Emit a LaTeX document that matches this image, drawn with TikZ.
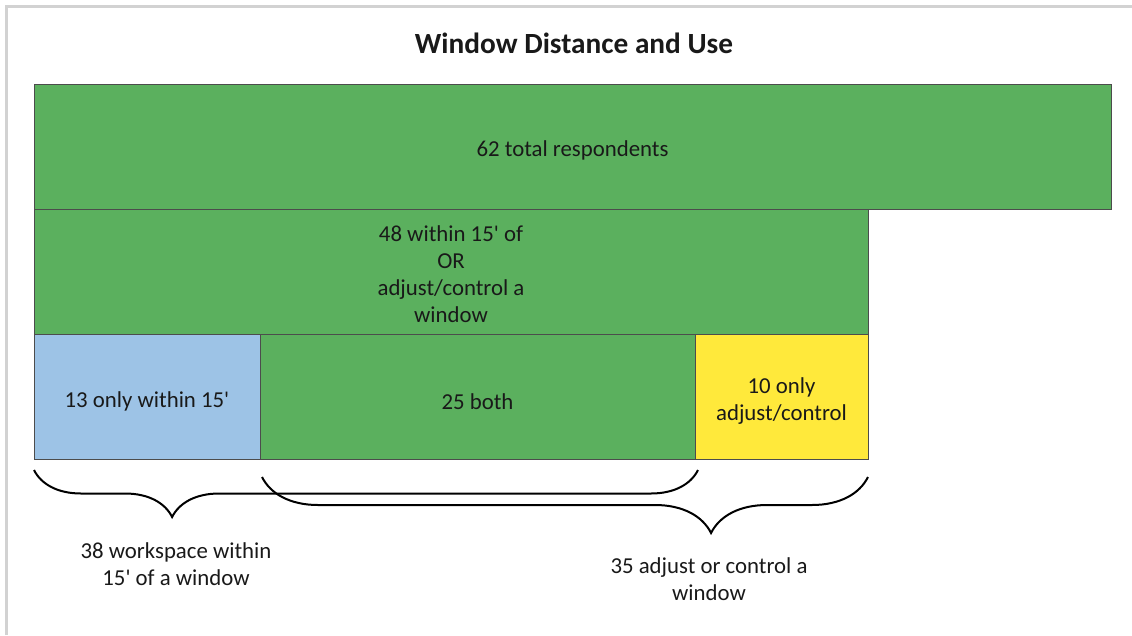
\documentclass[tikz,border=0pt]{standalone}
\usepackage{fontspec}
\setmainfont{Carlito}
\usepackage{tikz}
\usetikzlibrary{positioning,decorations.pathreplacing}

\definecolor{barGreen}{RGB}{91,176,94}
\definecolor{skyBlue}{RGB}{157,195,230}
\definecolor{sunYellow}{RGB}{255,233,59}
\definecolor{frameGray}{RGB}{210,210,210}
\definecolor{inkGray}{RGB}{25,25,25}

\newcommand\ft{15\textquotesingle}

\tikzset{
  cell/.style={draw=black!70, line width=1pt, outer sep=0pt, inner sep=0pt,
    minimum height=125pt},
  note/.style={align=center, text=inkGray, font=\fontsize{22.8}{27}\selectfont},
  curly/.style 2 args={draw, line width=2pt, decorate,
    decoration={brace, mirror, amplitude=#1, aspect=#2}},
}

\begin{document}
\begin{tikzpicture}[x=10pt,y=-10pt]
    \useasboundingbox (0,0) rectangle (113.2,63.5);
    \draw[frameGray, line width=3pt] (0.6,63.5) -- (0.6,0.6) -- (113.2,0.6);

    \node[font=\fontsize{29.3}{34}\selectfont\bfseries, text=inkGray] (title) at (57.4,4.3) {Window Distance and Use};

    \node[cell, fill=barGreen, minimum width=1077pt, anchor=north west] (total) at (3.4,8.4) {};
    \node[cell, fill=barGreen, minimum width=834pt, anchor=north west] (either) at (total.south west) {};
    \node[cell, fill=skyBlue, minimum width=226pt, anchor=north west] (only15) at (either.south west) {};
    \node[cell, fill=barGreen, minimum width=435pt, right=0pt of only15] (both) {};
    \node[cell, fill=sunYellow, minimum width=173pt, right=0pt of both] (onlyadj) {};

    \node[note] (totalText) at ([yshift=-4pt]total.center) {62 total respondents};
    \node[note] (eitherText) at ([yshift=-3pt]either.center) {48 within \ft{} of\\OR\\adjust/control a\\window};
    \node[note] (only15Text) at ([yshift=-5pt]only15.center) {13 only within \ft};
    \node[note] (bothText) at ([yshift=-5pt]both.center) {25 both};
    \node[note] (onlyadjText) at ([yshift=-5pt]onlyadj.center) {10 only\\adjust/control};

    \coordinate (wsFrom) at ([yshift=-11pt]only15.south west);
    \coordinate (wsTo) at ([xshift=3pt,yshift=-11pt]both.south east);
    \draw[curly={47pt}{0.208}] (wsFrom) -- (wsTo);
    \node[note] (wsLabel) at (17.6,56.4) {38 workspace within\\\ft{} of a window};

    \coordinate (adjFrom) at ([xshift=2pt,yshift=-18pt]both.south west);
    \coordinate (adjTo) at ([yshift=-18pt]onlyadj.south east);
    \draw[curly={56pt}{0.741}] (adjFrom) -- (adjTo);
    \node[note] (adjLabel) at (70.9,57.9) {35 adjust or control a\\window};
\end{tikzpicture}
\end{document}
